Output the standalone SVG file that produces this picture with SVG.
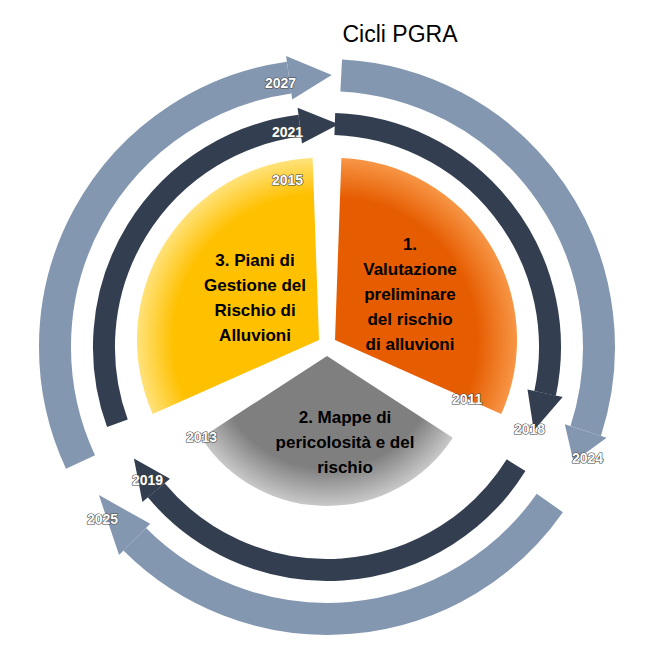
<svg xmlns="http://www.w3.org/2000/svg" width="653" height="654" viewBox="0 0 653 654">
<defs>
<radialGradient id="go" cx="335" cy="340" r="182" gradientUnits="userSpaceOnUse"><stop offset="0.78" stop-color="#E65C00"/><stop offset="1" stop-color="#F79646"/></radialGradient>
<radialGradient id="gy" cx="319" cy="340" r="182" gradientUnits="userSpaceOnUse"><stop offset="0.8" stop-color="#FFC000"/><stop offset="1" stop-color="#FFE27A"/></radialGradient>
<radialGradient id="gg" cx="327" cy="356" r="150" gradientUnits="userSpaceOnUse"><stop offset="0.75" stop-color="#7F7F7F"/><stop offset="1" stop-color="#C8C8C8"/></radialGradient>
</defs>
<style>
.o{fill:none;stroke:#8497B0;stroke-width:32}
.oh{fill:#8497B0}
.m{fill:none;stroke:#333F50;stroke-width:22}
.mh{fill:#333F50}
.y{font-family:"Liberation Sans",Arial,sans-serif;font-weight:bold;font-size:14px;fill:#fff;stroke:#444;stroke-width:1.2;paint-order:stroke}
.t{font-family:"Liberation Sans",Arial,sans-serif;font-weight:bold;font-size:17px;fill:#000;text-anchor:middle}
</style>
<text x="400" y="42" font-family="Liberation Sans, Arial, sans-serif" font-size="23" text-anchor="middle" fill="#000">Cicli PGRA</text>
<g id="connectors">
<path class="o" d="M341.2,75.4 A272,272 0 0 1 585.7,431"/>
<polygon class="oh" points="564.8,424.3 606.6,437.8 573.5,462"/>
<path class="o" d="M549.8,503 A272,272 0 0 1 134.7,539.3"/>
<polygon class="oh" points="150.2,523.8 119.1,554.9 98.9,495.1"/>
<path class="o" d="M80.5,462 A272,272 0 0 1 289.1,77.6"/>
<polygon class="oh" points="292.2,99.4 286.1,55.9 331.7,75.1"/>
<path class="m" d="M334.8,124.1 A223,223 0 0 1 545.1,393.4"/>
<polygon class="mh" points="527.5,389.6 562.7,397.1 533.8,430.5"/>
<path class="m" d="M516.1,465.2 A223,223 0 0 1 156.2,490.3"/>
<polygon class="mh" points="169.97,478.8 142.4,501.9 133.9,458.5"/>
<path class="m" d="M117.4,423.3 A223,223 0 0 1 299.8,125.7"/>
<polygon class="mh" points="302,143.5 297.6,107.8 338.7,124.3"/>
</g>
<g id="n1"><path d="M335,340 L341.4,158.1 A182,182 0 0 1 501.3,414 Z" fill="url(#go)"/>
<text class="t"><tspan x="410" y="250">1.</tspan><tspan x="410" y="275">Valutazione</tspan><tspan x="410" y="300">preliminare</tspan><tspan x="410" y="325">del rischio</tspan><tspan x="410" y="350">di alluvioni</tspan></text></g>
<g id="n2"><path d="M327,356 L452.8,437.7 A150,150 0 0 1 201.2,437.7 Z" fill="url(#gg)"/>
<text class="t"><tspan x="345" y="423">2. Mappe di</tspan><tspan x="345" y="448">pericolosità e del</tspan><tspan x="345" y="473">rischio</tspan></text></g>
<g id="n3"><path d="M319,340 L152.7,414 A182,182 0 0 1 312.6,158.1 Z" fill="url(#gy)"/>
<text class="t"><tspan x="255" y="266">3. Piani di</tspan><tspan x="255" y="291">Gestione del</tspan><tspan x="255" y="316">Rischio di</tspan><tspan x="255" y="341">Alluvioni</tspan></text></g>
<g id="years">
<text class="y" x="265" y="88">2027</text>
<text class="y" x="272" y="137">2021</text>
<text class="y" x="272" y="185">2015</text>
<text class="y" x="452" y="404">2011</text>
<text class="y" x="514" y="434">2018</text>
<text class="y" x="572" y="463">2024</text>
<text class="y" x="186" y="442">2013</text>
<text class="y" x="132" y="485">2019</text>
<text class="y" x="87" y="524">2025</text>
</g>
</svg>
